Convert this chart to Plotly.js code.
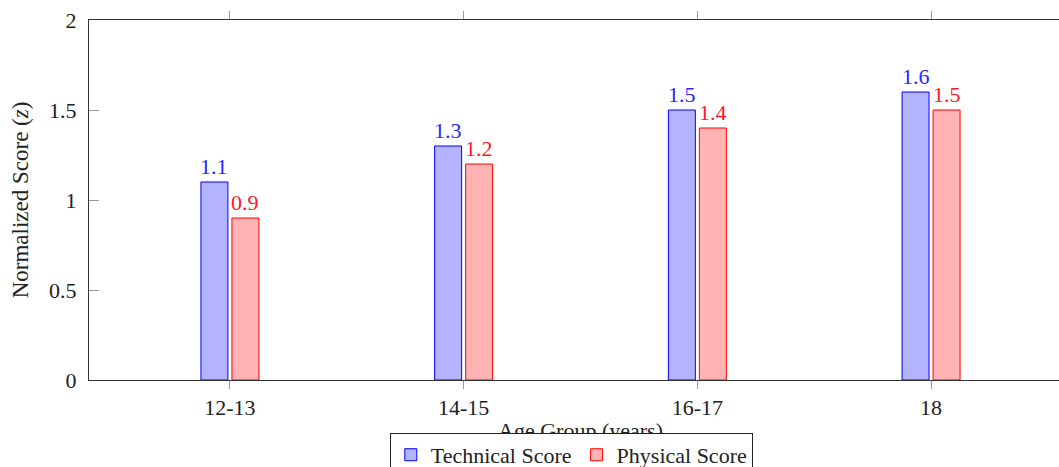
<!DOCTYPE html>
<html>
<head>
<meta charset="utf-8">
<script src="https://cdn.plot.ly/plotly-3.0.1.min.js"></script>
<style>
html,body{margin:0;padding:0;overflow:hidden;background:#fff;width:1059px;height:467px;}
#chart{width:1075px;height:467px;}
</style>
</head>
<body>
<div id="chart"></div>
<script>
const categories = ["12-13", "14-15", "16-17", "18"];
const technicalScore = [1.1, 1.3, 1.5, 1.6];
const physicalScore = [0.9, 1.2, 1.4, 1.5];
const yTickValues = [0, 0.5, 1, 1.5, 2];
const yTickLabels = ["0", "0.5", "1", "1.5", "2"];

const serif = "'Liberation Serif', 'DejaVu Serif', serif";
const FS = 22;
const xIdx = categories.map((c, i) => i);
const BAR_SHIFT = 0.0663; // half the distance between grouped bar centres

const traces = [
  {
    type: "bar", name: "Technical Score", x: xIdx, y: technicalScore,
    marker: {color: "rgb(179,179,255)", line: {color: "rgb(0,0,255)", width: 1}},
    hoverinfo: "none"
  },
  {
    type: "bar", name: "Physical Score", x: xIdx, y: physicalScore,
    marker: {color: "rgb(255,179,179)", line: {color: "rgb(255,0,0)", width: 1}},
    hoverinfo: "none"
  }
];

const annotations = [];
technicalScore.forEach((v, i) => annotations.push({
  x: i - BAR_SHIFT, y: v, xref: "x", yref: "y", text: v.toFixed(1),
  showarrow: false, xanchor: "center", yanchor: "bottom", yshift: 1,
  font: {family: serif, size: FS, color: "rgb(40,40,255)"}
}));
physicalScore.forEach((v, i) => annotations.push({
  x: i + BAR_SHIFT, y: v, xref: "x", yref: "y", text: v.toFixed(1),
  showarrow: false, xanchor: "center", yanchor: "bottom", yshift: 1,
  font: {family: serif, size: FS, color: "rgb(255,20,40)"}
}));

const layout = {
  width: 1075, height: 467,
  margin: {l: 89, r: 3, t: 20, b: 87, autoexpand: false},
  paper_bgcolor: "#fff", plot_bgcolor: "#fff",
  font: {family: serif, size: FS, color: "#222"},
  barmode: "group", bargap: 0.7346, bargroupgap: 0.13,
  showlegend: true,
  annotations: annotations,
  xaxis: {
    range: [-0.603, 3.603],
    tickmode: "array", tickvals: xIdx, ticktext: categories,
    ticks: "outside", ticklen: 8, tickcolor: "#999", tickwidth: 1,
    showline: true, linecolor: "#333", linewidth: 1, mirror: "ticks",
    showgrid: false, zeroline: false, automargin: false,
    tickfont: {family: serif, size: FS, color: "#222"},
    title: {text: "Age Group (years)", font: {family: serif, size: FS, color: "#222"}, standoff: 3}
  },
  yaxis: {
    range: [0, 2],
    tickmode: "array", tickvals: yTickValues, ticktext: yTickLabels,
    ticks: "inside", ticklen: 10, tickcolor: "#999", tickwidth: 1,
    showline: true, linecolor: "#333", linewidth: 1, mirror: "ticks",
    showgrid: false, zeroline: false, automargin: false,
    ticklabelstandoff: 7,
    tickfont: {family: serif, size: FS, color: "#222"},
    title: {text: "Normalized Score (<i>z</i>)", font: {family: serif, size: 23, color: "#222"}, standoff: 14}
  },
  legend: {
    orientation: "h", x: 0.306, xanchor: "left", y: -0.147, yanchor: "top",
    bgcolor: "#fff", bordercolor: "#222", borderwidth: 1,
    font: {family: serif, size: FS, color: "#222"},
    itemwidth: 30, tracegroupgap: 0
  }
};

Plotly.newPlot("chart", traces, layout, {displayModeBar: false, staticPlot: true}).then(() => {
  const lg = document.querySelector("#chart .legend");
  if (lg && lg.parentNode) lg.parentNode.appendChild(lg);
});
</script>
</body>
</html>
